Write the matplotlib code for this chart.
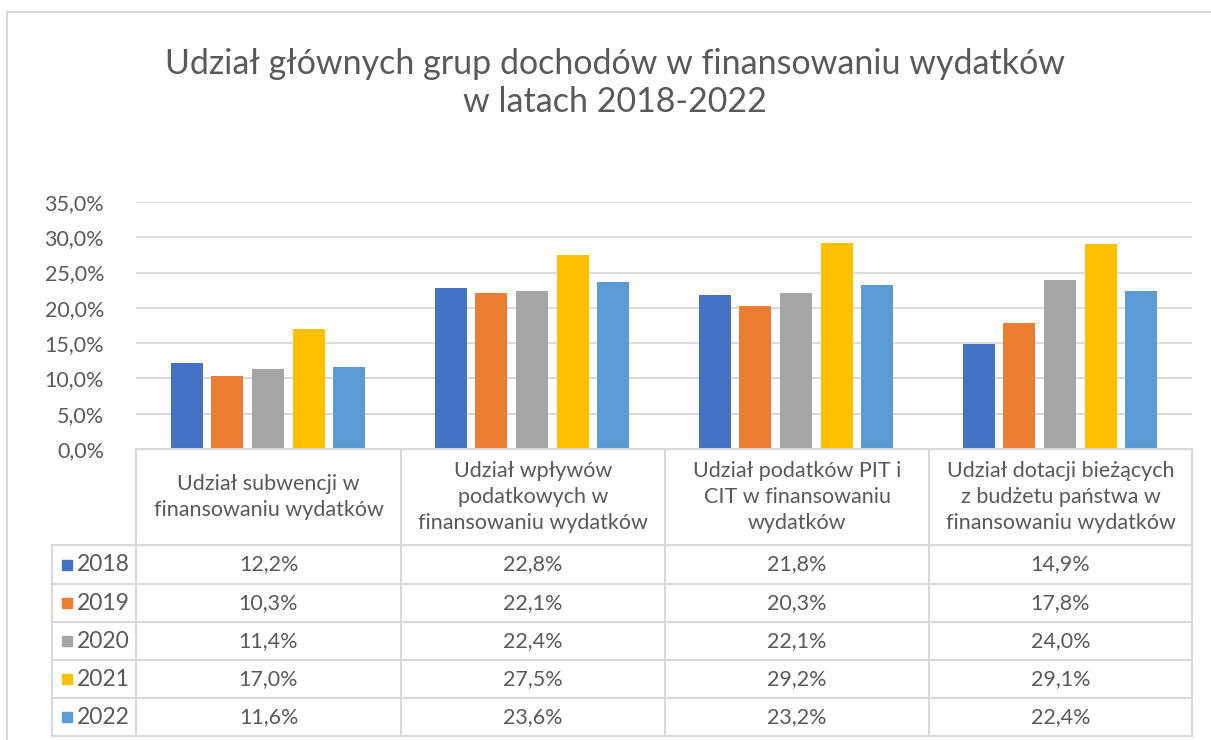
import matplotlib.pyplot as plt
import numpy as np

# data
categories = ['Udział subwencji w\nfinansowaniu wydatków',
              'Udział wpływów\npodatkowych w\nfinansowaniu wydatków',
              'Udział podatków PIT i\nCIT w finansowaniu\nwydatków',
              'Udział dotacji bieżących\nz budżetu państwa w\nfinansowaniu wydatków']
years = ['2018', '2019', '2020', '2021', '2022']
v2018 = [12.2, 22.8, 21.8, 14.9]
v2019 = [10.3, 22.1, 20.3, 17.8]
v2020 = [11.4, 22.4, 22.1, 24.0]
v2021 = [17.0, 27.5, 29.2, 29.1]
v2022 = [11.6, 23.6, 23.2, 22.4]
series = [v2018, v2019, v2020, v2021, v2022]
colors = ['#4472C4', '#ED7D31', '#A5A5A5', '#FFC000', '#5B9BD5']
yticks = [0, 5, 10, 15, 20, 25, 30, 35]

plt.rcParams['font.family'] = ['Lato', 'DejaVu Sans']
txt = '#595959'
grid = '#d9d9d9'

W, H = 1211, 740
fig = plt.figure(figsize=(W / 100, H / 100), dpi=100)

def fx(x):
    return x / W

def fy(y):
    return 1 - y / H

def pct(v):
    return ('%.1f' % v).replace('.', ',') + '%'

# outer chart border (left and top visible)
fig.add_artist(plt.Line2D([fx(7), fx(7)], [fy(12), 0], color=grid, lw=1.5))
fig.add_artist(plt.Line2D([fx(7), 1], [fy(12), fy(12)], color=grid, lw=1.5))

fig.text(fx(615), fy(83), 'Udział głównych grup dochodów w finansowaniu wydatków\nw latach 2018-2022',
         ha='center', va='center', fontsize=24.5, color=txt, linespacing=1.22)

# bar plot area
L, R, T, B = 136, 1192, 202, 449
ax = fig.add_axes([fx(L), fy(B), fx(R) - fx(L), fy(T) - fy(B)])
x = np.arange(len(categories))
step = 0.154
width = 0.121
for j, s in enumerate(series):
    ax.bar(x + (j - 2) * step, s, width, color=colors[j], zorder=3)
ax.set_xlim(-0.5, len(categories) - 0.5)
ax.set_ylim(0, 35)
ax.set_yticks(yticks)
ax.set_yticklabels([pct(t) for t in yticks], fontsize=15.5, color=txt)
ax.tick_params(axis='y', length=0, pad=23)
ax.set_xticks([])
ax.grid(axis='y', color=grid, lw=1.3, zorder=0)
for sp in ax.spines.values():
    sp.set_visible(False)

# data table below
col_x = [136, 401, 665, 929, 1192]
row_y = [449, 545, 584, 622, 660, 698, 736]
lab_x = 52
line_kw = dict(color=grid, lw=1.5)
fig.add_artist(plt.Line2D([fx(col_x[0]), fx(col_x[-1])], [fy(row_y[0])] * 2, **line_kw))
for yy in row_y[1:]:
    fig.add_artist(plt.Line2D([fx(lab_x), fx(col_x[-1])], [fy(yy)] * 2, **line_kw))
for xx in col_x:
    fig.add_artist(plt.Line2D([fx(xx)] * 2, [fy(row_y[0]), fy(row_y[-1])], **line_kw))
fig.add_artist(plt.Line2D([fx(lab_x)] * 2, [fy(row_y[1]), fy(row_y[-1])], **line_kw))

for i, c in enumerate(categories):
    cx = (col_x[i] + col_x[i + 1]) / 2
    cy = (row_y[0] + row_y[1]) / 2
    fig.text(fx(cx), fy(cy), c, ha='center', va='center', fontsize=15.5, color=txt, linespacing=1.35)

for j, yr in enumerate(years):
    cy = (row_y[j + 1] + row_y[j + 2]) / 2
    fig.add_artist(plt.Rectangle((fx(62), fy(cy + 5)), fx(10), 10 / H, color=colors[j]))
    fig.text(fx(77), fy(cy), yr, ha='left', va='center', fontsize=16.5, color=txt)
    for i in range(len(categories)):
        cx = (col_x[i] + col_x[i + 1]) / 2
        fig.text(fx(cx), fy(cy), pct(series[j][i]),
                 ha='center', va='center', fontsize=15.5, color=txt)

fig.savefig('out.png', dpi=100, facecolor='white')
